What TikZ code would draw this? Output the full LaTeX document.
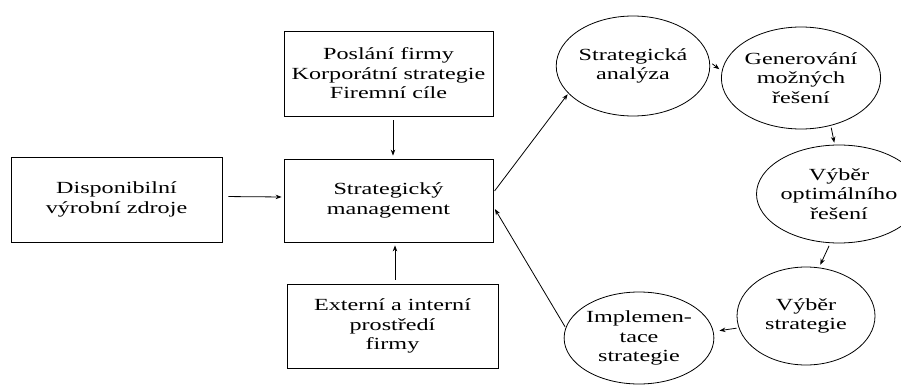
\documentclass[tikz,border=0pt]{standalone}
\usepackage{fontspec}
\setmainfont{Liberation Serif}[FakeStretch=1.42]
\usetikzlibrary{shapes.geometric,arrows.meta}
\begin{document}
\begin{tikzpicture}[x=1pt,y=-1pt,
  every node/.style={font=\fontsize{17}{19.5}\selectfont, align=center},
  box/.style={draw, line width=0.8pt, rectangle, inner sep=0pt},
  bubble/.style={draw, line width=0.8pt, ellipse, inner sep=0pt},
  link/.style={line width=0.8pt, -{Stealth[length=6pt,width=4.5pt]}}
]
\useasboundingbox (0,0) rectangle (901,385);

% rectangular blocks
\node[box, minimum width=209pt, minimum height=85pt] (P) at (388.5,73.5)
  {Poslání firmy\\Korporátní strategie\\Firemní cíle};
\node[box, minimum width=211pt, minimum height=85pt] (D) at (116.5,199.5)
  {Disponibilní\\výrobní zdroje};
\node[box, minimum width=209pt, minimum height=83pt] (SM) at (388.5,200.5)
  {Strategický\\management};
\node[box, minimum width=211pt, minimum height=84pt] (E) at (392.5,326)
  {Externí a interní\\prostředí\\firmy};

% process cycle
\node[bubble, minimum width=137pt, minimum height=100pt] (sa) at (633,66)
  {Strategická\\analýza};
\node[bubble, minimum width=139pt, minimum height=102pt] (gen) at (801,78)
  {Generování\\možných\\řešení};
\node[bubble, minimum width=128pt, minimum height=98pt] (opt) at (839,194)
  {Výběr\\optimálního\\řešení};
\node[bubble, minimum width=138pt, minimum height=98pt] (vs) at (806,316)
  {Výběr\\strategie};
\node[bubble, minimum width=138pt, minimum height=92pt] (impl) at (639,338)
  {Implemen-\\tace\\strategie};

% inputs to strategic management
\draw[link, shorten <=4pt, shorten >=3pt] ([xshift=4.5pt]P.south) -- ([xshift=4.5pt]SM.north);
\draw[link, shorten <=6pt, shorten >=2pt] ([yshift=3pt]D.east) -- ([yshift=3.5pt]SM.west);
\draw[link, shorten <=4pt, shorten >=3pt] ([xshift=2.5pt]E.north) -- ([xshift=6.5pt]SM.south);

% cycle connectors
\draw[link, shorten <=2pt, shorten >=1pt] ([yshift=8pt]SM.east) -- (sa.203);
\draw[link, shorten <=3pt, shorten >=3pt] (sa.3) -- (gen.175);
\draw[link, shorten <=2pt, shorten >=2pt] (gen.-58) -- (opt.95);
\draw[link, shorten <=3pt, shorten >=3pt] (opt.-100) -- (vs.75);
\draw[link, shorten <=2pt, shorten >=6pt] (vs.190) -- (impl.5);
\draw[link, shorten <=1pt, shorten >=3pt] (impl.172) -- ([yshift=-6pt]SM.east);
\end{tikzpicture}
\end{document}
